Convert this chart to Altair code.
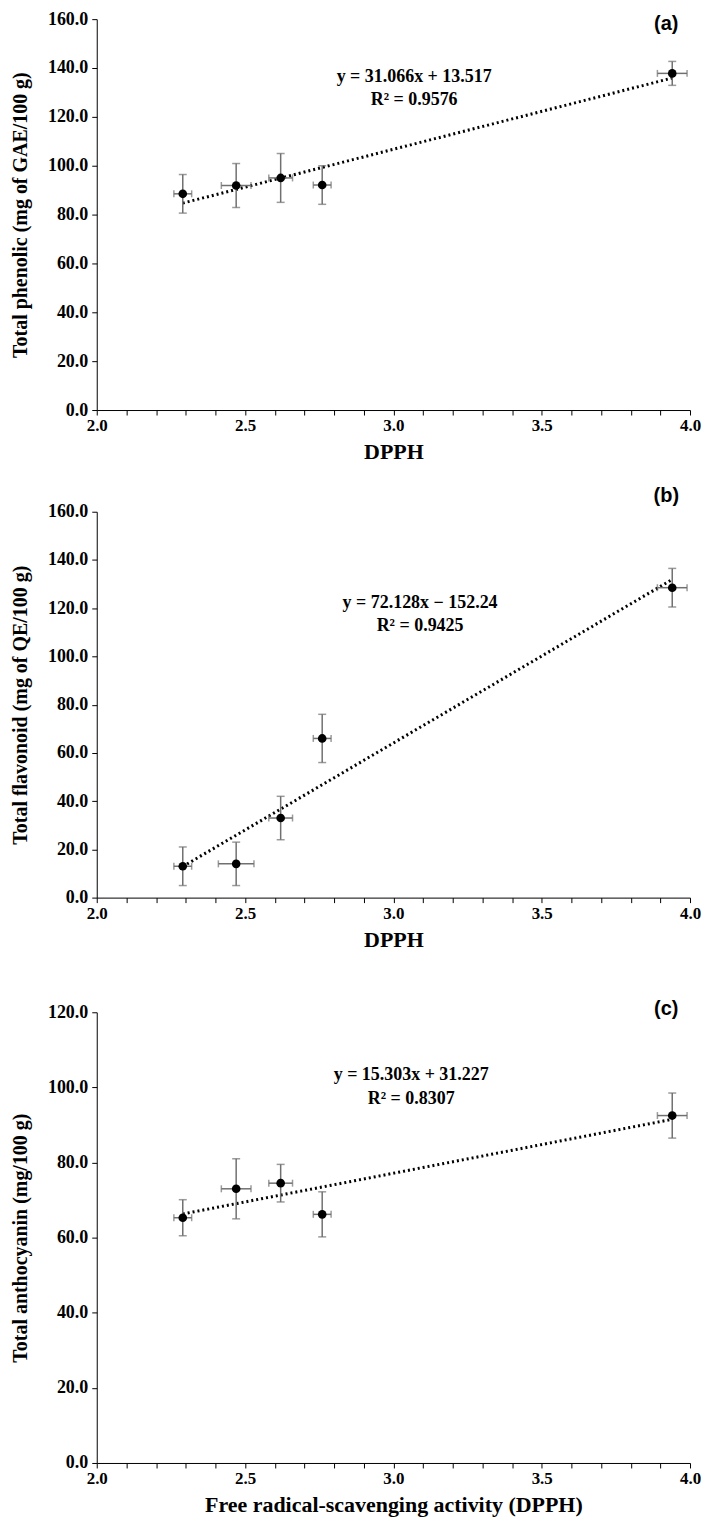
import altair as alt
import pandas as pd

# ---- data ----
dpph = [2.29, 2.47, 2.62, 2.76, 3.94]

# panel (a)
a_y = [88.5, 91.9, 95.0, 92.1, 137.8]
a_yerr = [7.9, 9.0, 10.0, 7.9, 4.9]
a_xerr = [0.03, 0.05, 0.04, 0.03, 0.05]
a_trend_x = [2.29, 3.94]
a_trend_y = [84.7, 135.9]

# panel (b)
b_y = [13.0, 14.0, 33.0, 66.0, 128.5]
b_yerr = [8.0, 9.0, 9.0, 10.0, 8.0]
b_xerr = [0.03, 0.06, 0.04, 0.03, 0.05]
b_trend_x = [2.29, 3.94]
b_trend_y = [12.9, 131.9]

# panel (c)
c_y = [65.3, 73.0, 74.5, 66.2, 92.5]
c_yerr = [4.8, 8.0, 5.0, 6.0, 6.0]
c_xerr = [0.03, 0.05, 0.04, 0.03, 0.05]
c_trend_x = [2.29, 3.94]
c_trend_y = [66.3, 91.5]

x_ticks = [round(2.0 + 0.1 * i, 1) for i in range(21)]

SERIF = "Liberation Serif"
SANS = "Liberation Sans"
W = 595


def panel(ys, yerr, xerr, tx, ty, ymax, ytitle, xtitle, eq, r2, eq_pos, r2_pos, tag, tag_pos, height):
    df = pd.DataFrame({
        "x": dpph, "y": ys,
        "ylo": [v - e for v, e in zip(ys, yerr)],
        "yhi": [v + e for v, e in zip(ys, yerr)],
        "xlo": [v - e for v, e in zip(dpph, xerr)],
        "xhi": [v + e for v, e in zip(dpph, xerr)],
    })
    xs = alt.Scale(domain=[2.0, 4.0], nice=False, zero=False)
    ysc = alt.Scale(domain=[0, ymax], nice=False)
    xaxis = alt.Axis(
        values=x_ticks, tickCount=len(x_ticks),
        labelExpr="abs(datum.value*2 - round(datum.value*2)) < 0.001 ? format(datum.value, '.1f') : ''",
        grid=False, labelFont=SERIF, labelFontWeight="bold", labelFontSize=17, labelColor="black",
        titleFont=SERIF, titleFontWeight="bold", titleFontSize=22, titleColor="black",
        domainColor="black", tickColor="black", tickSize=5, labelPadding=3, titlePadding=8,
        labelFlush=False, labelOverlap=False,
    )
    yaxis = alt.Axis(
        values=list(range(0, ymax + 1, 20)), tickCount=ymax // 20 + 1, format=".1f",
        grid=False, labelFont=SERIF, labelFontWeight="bold", labelFontSize=18, labelColor="black",
        titleFont=SERIF, titleFontWeight="bold", titleFontSize=20, titleColor="black",
        domainColor="black", tickColor="black", tickSize=5, labelPadding=4, titlePadding=10,
        minExtent=56, maxExtent=56, labelOverlap=False,
    )
    base = alt.Chart(df)
    pts = base.mark_circle(size=75, color="black", opacity=1).encode(
        x=alt.X("x:Q", scale=xs, axis=xaxis, title=xtitle),
        y=alt.Y("y:Q", scale=ysc, axis=yaxis, title=ytitle),
    )
    err_col = "#707070"
    yrule = base.mark_rule(color=err_col, strokeWidth=1.5).encode(
        x="x:Q", y="ylo:Q", y2="yhi:Q")
    ycap_lo = base.mark_tick(orient="horizontal", size=8, thickness=1.5, color=err_col).encode(
        x="x:Q", y="ylo:Q")
    ycap_hi = base.mark_tick(orient="horizontal", size=8, thickness=1.5, color=err_col).encode(
        x="x:Q", y="yhi:Q")
    xrule = base.mark_rule(color=err_col, strokeWidth=1.5).encode(
        y="y:Q", x="xlo:Q", x2="xhi:Q")
    xcap_lo = base.mark_tick(orient="vertical", size=7, thickness=1.5, color=err_col).encode(
        y="y:Q", x="xlo:Q")
    xcap_hi = base.mark_tick(orient="vertical", size=7, thickness=1.5, color=err_col).encode(
        y="y:Q", x="xhi:Q")
    trend = alt.Chart(pd.DataFrame({"x": tx, "y": ty})).mark_line(
        color="black", strokeWidth=3, strokeDash=[2, 3], strokeCap="butt").encode(
        x="x:Q", y="y:Q")
    txt = alt.Chart(pd.DataFrame({
        "x": [eq_pos[0], r2_pos[0]], "y": [eq_pos[1], r2_pos[1]], "t": [eq, r2]})).mark_text(
        font=SERIF, fontWeight="bold", fontSize=18, color="black", align="center", baseline="middle").encode(
        x="x:Q", y="y:Q", text="t:N")
    lab = alt.Chart(pd.DataFrame({"x": [tag_pos[0]], "y": [tag_pos[1]], "t": [tag]})).mark_text(
        font=SANS, fontWeight="bold", fontSize=20, color="black", align="center", baseline="middle").encode(
        x="x:Q", y="y:Q", text="t:N")
    return alt.layer(trend, yrule, ycap_lo, ycap_hi, xrule, xcap_lo, xcap_hi, pts, txt, lab).properties(
        width=W, height=height)


pa = panel(a_y, a_yerr, a_xerr, a_trend_x, a_trend_y, 160, "Total phenolic (mg of GAE/100 g)", "DPPH",
           "y = 31.066x + 13.517", "R² = 0.9576", (3.07, 136.5), (3.07, 127.0), "(a)", (3.92, 158.0), 392)
pb = panel(b_y, b_yerr, b_xerr, b_trend_x, b_trend_y, 160, "Total flavonoid (mg of QE/100 g)", "DPPH",
           "y = 72.128x − 152.24", "R² = 0.9425", (3.09, 122.0), (3.09, 112.5), "(b)", (3.92, 166.5), 387)
pc = panel(c_y, c_yerr, c_xerr, c_trend_x, c_trend_y, 120, "Total anthocyanin (mg/100 g)",
           "Free radical-scavenging activity (DPPH)",
           "y = 15.303x + 31.227", "R² = 0.8307", (3.06, 103.3), (3.06, 96.9), "(c)", (3.92, 120.8), 452)

top = alt.vconcat(pa, pb, spacing=23)
chart = alt.vconcat(top, pc, spacing=48).properties(
    padding={"left": 3, "top": 0, "right": 0, "bottom": 0}).configure_view(stroke=None)

chart.save("out.html", embed_options={"renderer": "svg", "actions": False})
